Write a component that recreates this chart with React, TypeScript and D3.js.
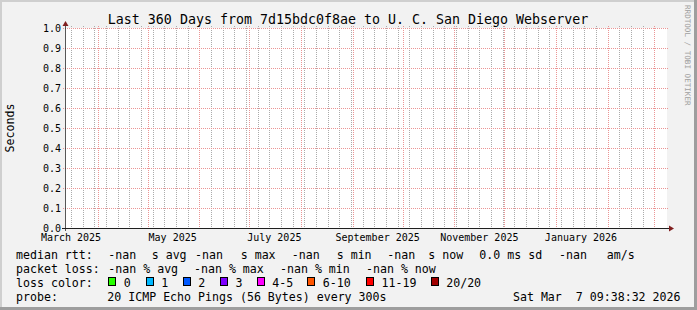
import React from "react";
import * as d3 from "d3";

const TITLE = "Last 360 Days from 7d15bdc0f8ae to U. C. San Diego Webserver";
const Y_LABEL = "Seconds";
const WATERMARK = "RRDTOOL / TOBI OETIKER";
const END_TIME = new Date(Date.UTC(2026, 2, 7, 9, 38, 32));
const SPAN_DAYS = 360;
const Y_TICKS = [0, 0.1, 0.2, 0.3, 0.4, 0.5, 0.6, 0.7, 0.8, 0.9, 1.0];

const RTT_LABEL = "median rtt:";
const RTT_ITEMS = [
  { t: "-nan", x: 108.3 }, { t: "s avg", x: 151.7 },
  { t: "-nan", x: 195 }, { t: "s max", x: 240.7 },
  { t: "-nan", x: 291.7 }, { t: "s min", x: 336.7 },
  { t: "-nan", x: 387.3 }, { t: "s now", x: 428.3 },
  { t: "0.0 ms sd", x: 479.3 },
  { t: "-nan", x: 559 }, { t: "am/s", x: 606.7 },
];
const LOSS_LABEL = "packet loss:";
const LOSS_ITEMS = [
  { t: "-nan % avg", x: 108.3 },
  { t: "-nan % max", x: 194 },
  { t: "-nan % min", x: 280 },
  { t: "-nan % now", x: 366 },
];
const LOSS_COLOR_LABEL = "loss color:";
const LOSS_NAMES = ["0", "1", "2", "3", "4-5", "6-10", "11-19", "20/20"];
const LOSS_COLORS = ["#26ff00", "#00b8ff", "#0059ff", "#7e00ff", "#ff00ff", "#ff5500", "#ff0000", "#a00000"];
const LOSS_X = [108.3, 145.7, 182.7, 220, 256.7, 307.3, 366, 430.7];
const PROBE_LABEL = "probe:";
const PROBE_TEXT = "20 ICMP Echo Pings (56 Bytes) every 300s";
const DATE_TEXT = "Sat Mar  7 09:38:32 2026";

const W = 697, H = 310;
const X0 = 65, X1 = 665, Y0 = 228, Y1 = 28;
const MONO = "'DejaVu Sans Mono', monospace";
const DAY = 86400000;

export default function App() {
  const start = new Date(END_TIME.getTime() - SPAN_DAYS * DAY);
  const x = d3.scaleUtc().domain([start, END_TIME]).range([X0, X1]);
  const y = d3.scaleLinear().domain([0, 1]).range([Y0, Y1]);
  const px = (v: number) => Math.round(v) + 0.5;

  const sundays = d3.utcSunday.range(start, END_TIME);
  const months = d3.utcMonth.range(start, END_TIME);
  const labelMonths = d3.utcMonth
    .every(2)!
    .range(d3.utcMonth.floor(start), END_TIME)
    .filter((d) => {
      const c = d.getTime() + 15 * DAY;
      return c >= start.getTime() && c <= END_TIME.getTime();
    });
  const fmt = d3.utcFormat("%B %Y");

  const minorColor = "#ababab";
  const majorColor = "#eb9595";

  const L1 = 258.5, L2 = 272.7, L3 = 286.8, L4 = 301;

  return (
    <svg width={W} height={H} style={{ position: "absolute", left: 0, top: 0, display: "block" }}
      fontFamily={MONO}>
      <rect x={0} y={0} width={W} height={H} fill="#f2f2f2" />
      <rect x={0} y={0} width={W} height={2} fill="#cfcfcf" />
      <rect x={0} y={0} width={2} height={H} fill="#cfcfcf" />
      <rect x={W - 3} y={0} width={3} height={H} fill="#9e9e9e" />
      <rect x={0} y={H - 3} width={W} height={3} fill="#9e9e9e" />

      <rect x={X0} y={Y1} width={602} height={Y0 - Y1} fill="#ffffff" />

      {sundays.map((d, i) => (
        <line key={"s" + i} x1={px(x(d))} x2={px(x(d))} y1={Y1 - 2} y2={Y0 + 2}
          stroke={minorColor} strokeDasharray="1 1" />
      ))}
      {months.map((d, i) => (
        <line key={"m" + i} x1={px(x(d))} x2={px(x(d))} y1={Y1 - 2} y2={Y0 + 2}
          stroke={majorColor} strokeDasharray="1 1" />
      ))}
      {Y_TICKS.filter((t) => t > 0).map((t, i) => (
        <line key={"h" + i} x1={X0 - 2} x2={669} y1={px(y(t))} y2={px(y(t))}
          stroke={majorColor} strokeDasharray="1 1" />
      ))}
      <line x1={X0 - 3} x2={669} y1={px(Y0)} y2={px(Y0)} stroke="#1f1f1f" />
      <line x1={px(X0)} x2={px(X0)} y1={Y0 + 3} y2={23} stroke="#1f1f1f" strokeOpacity={0.75} />
      <path d={`M${px(X0) - 3},26 L${px(X0) + 3},26 L${px(X0)},21 Z`} fill="#801f1f" />
      <path d={`M669,${px(Y0) - 3} L669,${px(Y0) + 3} L674,${px(Y0)} Z`} fill="#801f1f" />

      {Y_TICKS.map((t, i) => (
        <text key={"yl" + i} x={61} y={px(y(t)) + 3.5} fontSize={10} textAnchor="end" fill="#000">
          {t.toFixed(1)}
        </text>
      ))}
      {labelMonths.map((d, i) => (
        <text key={"xl" + i} x={x(new Date(d.getTime() + 15 * DAY))} y={241}
          fontSize={10} textAnchor="middle" fill="#000">
          {fmt(d)}
        </text>
      ))}

      <text x={348} y={24} fontSize={13.3} textAnchor="middle" fill="#000">{TITLE}</text>
      <text transform={`translate(14,${(Y0 + Y1) / 2}) rotate(-90)`} fontSize={11.6}
        textAnchor="middle" fill="#000">{Y_LABEL}</text>
      <text transform={`translate(685,5) rotate(90)`} fontSize={7.6} fill="#a0a0a0">{WATERMARK}</text>

      <g fontSize={11.6} fill="#000" style={{ whiteSpace: "pre" }}>
        <text x={16} y={L1}>{RTT_LABEL}</text>
        {RTT_ITEMS.map((it, i) => (
          <text key={"r" + i} x={it.x} y={L1}>{it.t}</text>
        ))}
        <text x={16} y={L2}>{LOSS_LABEL}</text>
        {LOSS_ITEMS.map((it, i) => (
          <text key={"p" + i} x={it.x} y={L2}>{it.t}</text>
        ))}
        <text x={16} y={L3}>{LOSS_COLOR_LABEL}</text>
        {LOSS_NAMES.map((n, i) => (
          <g key={"lc" + i}>
            <rect x={Math.round(LOSS_X[i]) + 0.5} y={277.5} width={7} height={8}
              fill={LOSS_COLORS[i]} stroke="#000" />
            <text x={LOSS_X[i] + 15.5} y={L3}>{n}</text>
          </g>
        ))}
        <text x={16} y={L4}>{PROBE_LABEL}</text>
        <text x={107.3} y={L4}>{PROBE_TEXT}</text>
        <text x={680.5} y={L4} textAnchor="end" xmlSpace="preserve">{DATE_TEXT}</text>
      </g>
    </svg>
  );
}
